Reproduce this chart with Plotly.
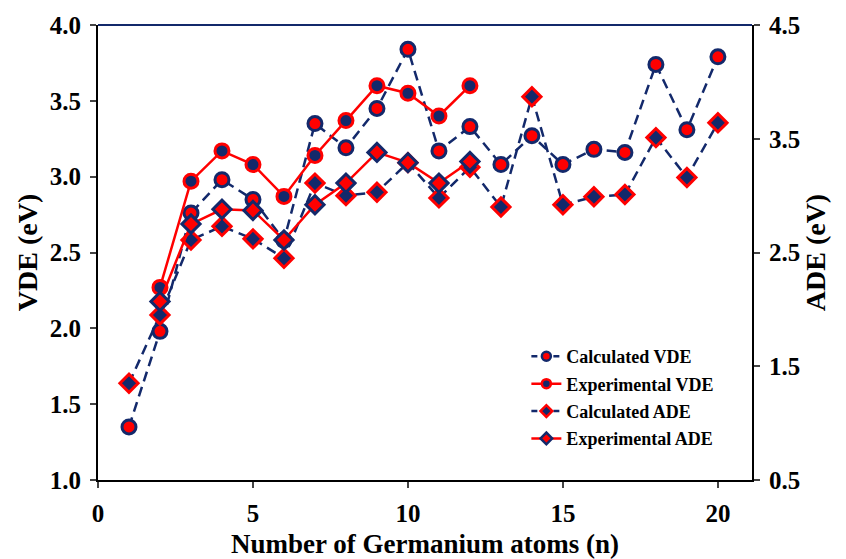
import plotly.graph_objects as go

NAVY = "#13296B"
RED = "#FF0000"
FONT = "Liberation Serif"

n_calc = list(range(1, 21))
calc_vde = [1.35, 1.98, 2.76, 2.98, 2.85, 2.58, 3.35, 3.19, 3.45, 3.84,
            3.17, 3.33, 3.08, 3.27, 3.08, 3.18, 3.16, 3.74, 3.31, 3.79]
calc_ade = [1.35, 1.95, 2.61, 2.73, 2.62, 2.45, 3.11, 3.00, 3.03, 3.29,
            2.98, 3.25, 2.90, 3.87, 2.92, 2.99, 3.01, 3.51, 3.16, 3.64]

n_exp = list(range(2, 13))
exp_vde = [2.27, 2.97, 3.17, 3.08, 2.87, 3.14, 3.37, 3.60, 3.55, 3.40, 3.60]
exp_ade = [2.07, 2.75, 2.88, 2.87, 2.61, 2.92, 3.11, 3.38, 3.29, 3.11, 3.30]

x_ticks = [0, 5, 10, 15, 20]
vde_ticks = [1.0, 1.5, 2.0, 2.5, 3.0, 3.5, 4.0]
ade_ticks = [0.5, 1.5, 2.5, 3.5, 4.5]

series = [
    dict(name="Calculated VDE", x=n_calc, y=calc_vde, axis="y", dash="10px,6px", lc=NAVY,
         sym="circle", fill=RED, edge=NAVY),
    dict(name="Experimental VDE", x=n_exp, y=exp_vde, axis="y", dash="solid", lc=RED,
         sym="circle", fill=NAVY, edge=RED),
    dict(name="Calculated ADE", x=n_calc, y=calc_ade, axis="y2", dash="10px,6px", lc=NAVY,
         sym="diamond", fill=NAVY, edge=RED),
    dict(name="Experimental ADE", x=n_exp, y=exp_ade, axis="y2", dash="solid", lc=RED,
         sym="diamond", fill=RED, edge=NAVY),
]

fig = go.Figure()
for s in series:
    fig.add_trace(go.Scatter(
        x=s["x"], y=s["y"], name=s["name"], mode="lines+markers", yaxis=s["axis"],
        line=dict(color=s["lc"], width=2.5, dash=s["dash"]),
        marker=dict(symbol=s["sym"], size=14, color=s["fill"],
                    line=dict(color=s["edge"], width=3)),
        showlegend=False))
# legend entries with smaller markers
for i, s in enumerate(series):
    fig.add_trace(go.Scatter(
        x=[None], y=[None], name=s["name"], mode="lines+markers", yaxis=s["axis"],
        line=dict(color=s["lc"], width=2.5, dash="6px,5px" if s["dash"] != "solid" else "solid"),
        marker=dict(symbol=s["sym"], size=9, color=s["fill"],
                    line=dict(color=s["edge"], width=2.5)),
        legendgroup=f"g{i}", showlegend=True))

axis_font = dict(family=FONT, size=25, color="black", weight="bold")
xtitle_font = dict(family=FONT, size=27, color="black", weight="bold")
ytitle_font = dict(family=FONT, size=28, color="black", weight="bold")

fig.update_layout(
    width=846, height=559,
    margin=dict(l=98, r=94, t=25, b=79),
    paper_bgcolor="white", plot_bgcolor="white",
    font=dict(family=FONT, color="black"),
    xaxis=dict(range=[0, 21.1], tickvals=x_ticks, ticks="outside", ticklen=6, tickwidth=2,
               showline=True, linecolor="black", linewidth=2, showgrid=False, zeroline=False,
               tickfont=axis_font, ticklabelstandoff=4, automargin=False,
               title=dict(text="Number of Germanium atoms (n)", font=xtitle_font, standoff=8)),
    yaxis=dict(range=[1.0, 4.0], tickvals=vde_ticks, tickformat=".1f", ticks="outside",
               ticklen=6, tickwidth=2, showline=True, linecolor="black", linewidth=2,
               showgrid=False, zeroline=False, tickfont=axis_font, ticklabelstandoff=4,
               automargin=False,
               title=dict(text="VDE (eV)", font=ytitle_font, standoff=4)),
    yaxis2=dict(range=[0.5, 4.5], tickvals=ade_ticks, tickformat=".1f", ticks="outside",
                ticklen=6, tickwidth=2, showline=True, linecolor="black", linewidth=2,
                showgrid=False, zeroline=False, overlaying="y", side="right",
                tickfont=axis_font, ticklabelstandoff=4, automargin=False,
                title=dict(text="ADE (eV)", font=ytitle_font, standoff=4)),
    legend=dict(x=0.655, y=0.312, xanchor="left", yanchor="top",
                font=dict(family=FONT, size=18, color="black", weight="bold"),
                bgcolor="rgba(0,0,0,0)", tracegroupgap=1, traceorder="grouped",
                itemwidth=30),
    showlegend=True,
)

fig.add_shape(type="line", xref="paper", yref="paper", x0=0, x1=1, y0=1, y1=1,
              line=dict(color=NAVY, width=2))

fig.write_html("out.html")
